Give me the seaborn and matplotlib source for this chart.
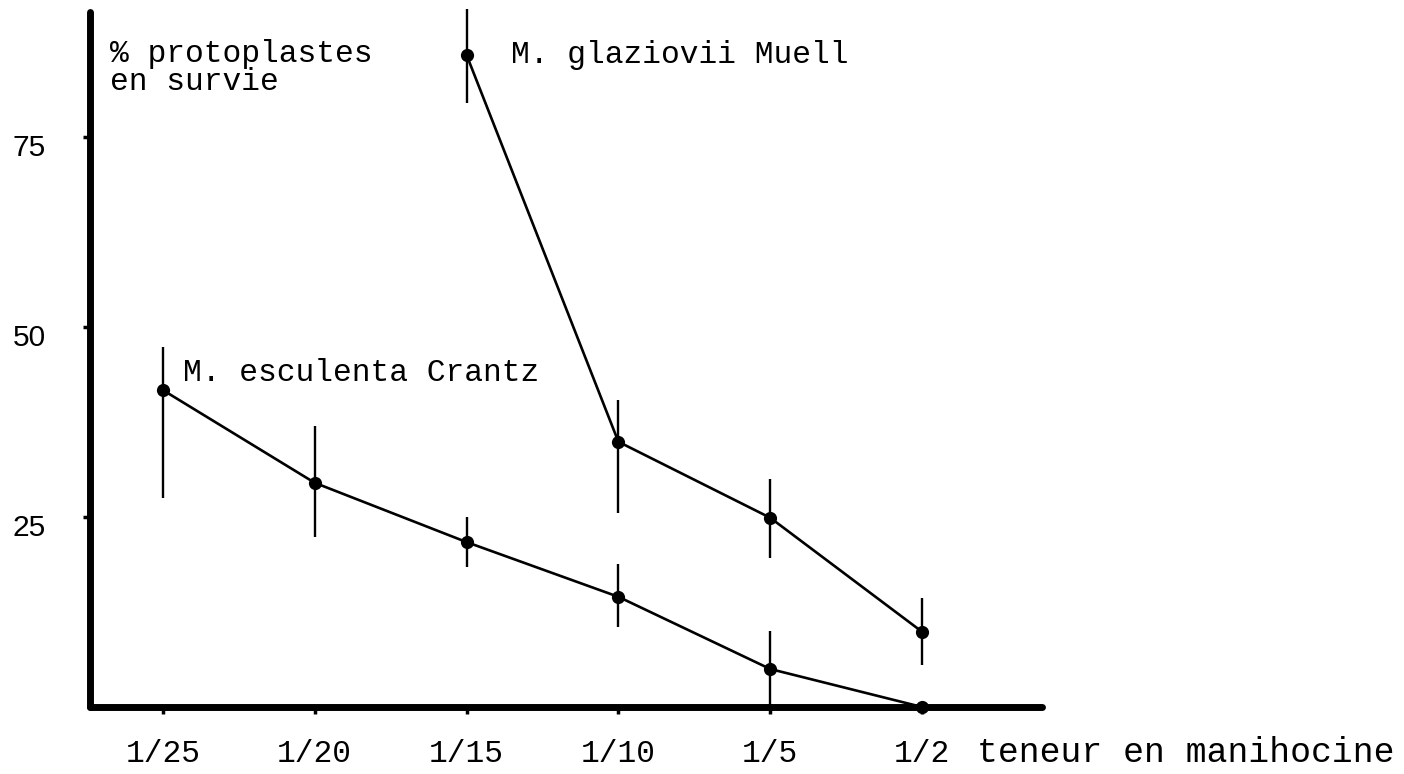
import numpy as np
import pandas as pd
import matplotlib
matplotlib.use("Agg")
import matplotlib.pyplot as plt
import matplotlib.transforms as mtransforms
import seaborn as sns

# ---- data ----
categories = ["1/25", "1/20", "1/15", "1/10", "1/5", "1/2"]

esc_values = [41.7, 29.5, 21.7, 14.5, 5.0, 0.0]
esc_low    = [27.5, 22.4, 18.4, 10.5, 0.0, 0.0]
esc_high   = [47.4, 37.0, 25.0, 18.8, 10.0, 0.0]

gla_cats   = ["1/15", "1/10", "1/5", "1/2"]
gla_values = [85.8, 34.9, 24.9, 9.9]
gla_low    = [79.5, 25.5, 19.6, 5.5]
gla_high   = [91.8, 40.4, 30.0, 14.3]

y_ticks = [25, 50, 75]

sns.set_theme(style="white")
plt.rcParams['font.family'] = ['Liberation Mono', 'DejaVu Sans Mono']
plt.rcParams['text.color'] = 'black'

W, H = 1404, 774
fig = plt.figure(figsize=(W / 100, H / 100), dpi=100)
x0, x1, y0, y1 = 90, 1042, 707, 12
ax = fig.add_axes([x0 / W, 1 - y0 / H, (x1 - x0) / W, (y0 - y1) / H])

pos = {c: i for i, c in enumerate(categories)}
df_esc = pd.DataFrame({"x": [pos[c] for c in categories], "y": esc_values})
df_gla = pd.DataFrame({"x": [pos[c] for c in gla_cats], "y": gla_values})

for df in (df_esc, df_gla):
    sns.lineplot(data=df, x="x", y="y", ax=ax, color="black", linewidth=1.9,
                 marker="o", markersize=9.5, markeredgewidth=0, clip_on=False,
                 zorder=3)

ax.vlines([pos[c] for c in categories], esc_low, esc_high, color="black",
          linewidth=1.7, clip_on=False, zorder=3)
ax.vlines([pos[c] for c in gla_cats], gla_low, gla_high, color="black",
          linewidth=1.7, clip_on=False, zorder=3)

ax.set_xlim(-0.48, 5.79)
ax.set_ylim(0, (y0 - y1) / 7.6)

ax.set_xticks(range(len(categories)))
ax.set_xticklabels(categories)
ax.set_yticks(y_ticks)
ax.set_yticklabels([str(t) for t in y_ticks])
ax.set_xlabel("")
ax.set_ylabel("")

for s in ("top", "right"):
    ax.spines[s].set_visible(False)
for s in ("left", "bottom"):
    ax.spines[s].set_linewidth(5)
    ax.spines[s].set_color("black")
    ax.spines[s].set_capstyle("round")

ax.tick_params(axis="x", direction="out", length=5, width=2.5, pad=18,
               labelsize=22.5, colors="black", bottom=True)
ax.tick_params(axis="y", direction="out", length=5, width=2.5, pad=26.5,
               labelsize=21.5, colors="black", left=True)
for lab in ax.get_yticklabels():
    lab.set_fontfamily(['Liberation Sans', 'DejaVu Sans'])
    lab.set_transform(lab.get_transform() +
                      mtransforms.ScaledTranslation(0, -8 / 100, fig.dpi_scale_trans))

ax.text(2.29, 85.8, "M. glaziovii Muell", fontsize=22.5, ha="left", va="center",
        color="black")
ax.text(0.13, 43.9, "M. esculenta Crantz", fontsize=22.5, ha="left", va="center",
        color="black")

fig.text(110 / W, 1 - 39 / H, "% protoplastes\nen survie", fontsize=22.5,
         ha="left", va="top", linespacing=0.93, color="black")
fig.text(977 / W, 1 - 752 / H, "teneur en manihocine", fontsize=25,
         ha="left", va="center", color="black")

fig.savefig("out.png", dpi=100, facecolor="white")
